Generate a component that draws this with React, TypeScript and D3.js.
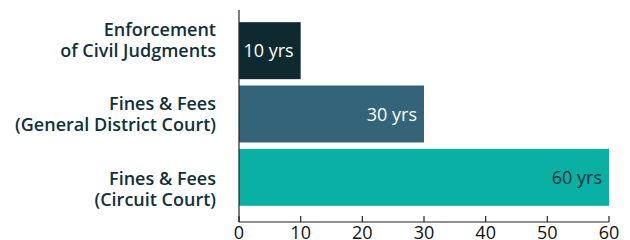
import React from "react";
import * as d3 from "d3";

const categories = [
  ["Enforcement", "of Civil Judgments"],
  ["Fines & Fees", "(General District Court)"],
  ["Fines & Fees", "(Circuit Court)"],
];
const values = [10, 30, 60];
const valueLabels = ["10 yrs", "30 yrs", "60 yrs"];
const barColors = ["#0e2a30", "#33647a", "#0bb0a5"];
const valueTextColors = ["#ffffff", "#ffffff", "#10303a"];
const xTicks = [0, 10, 20, 30, 40, 50, 60];

const W = 630;
const H = 240;
const FONT = "'Open Sans', sans-serif";
const TEXT = "#10303a";

export default function App() {
  const keys = categories.map((_, i) => String(i));
  const x = d3.scaleLinear().domain([0, 60]).range([239, 609]);
  const y = d3.scaleBand().domain(keys).range([19, 209]).paddingInner(0.1).paddingOuter(0.05);
  const labelY = d3.scalePoint().domain(keys).range([39.5, 188.5]);
  const axisY = 222;

  return (
    <svg width={W} height={H} style={{ position: "absolute", left: 0, top: 0, background: "#fff" }}>
      {values.map((v, i) => (
        <rect key={"b" + i} x={x(0)} y={y(keys[i])} width={x(v) - x(0)} height={y.bandwidth()} fill={barColors[i]} />
      ))}
      {values.map((v, i) => (
        <text
          key={"v" + i}
          x={x(v) - 7}
          y={(y(keys[i]) as number) + y.bandwidth() / 2 + 6.5}
          textAnchor="end"
          fontFamily={FONT}
          fontSize={18}
          fill={valueTextColors[i]}
        >
          {valueLabels[i]}
        </text>
      ))}
      {categories.map((lines, i) => (
        <text
          key={"c" + i}
          x={216}
          y={(labelY(keys[i]) as number) - 4}
          textAnchor="end"
          fontFamily={FONT}
          fontWeight={600}
          fontSize={18}
          fill={TEXT}
        >
          {lines.map((l, j) => (
            <tspan key={j} x={216} dy={j === 0 ? 0 : 21}>
              {l}
            </tspan>
          ))}
        </text>
      ))}
      <line x1={x(0)} x2={x(0)} y1={10} y2={axisY} stroke="#222" strokeWidth={1.2} />
      <line x1={x(0)} x2={x(60)} y1={axisY} y2={axisY} stroke="#222" strokeWidth={1.2} />
      {xTicks.map((t) => (
        <g key={"t" + t}>
          <line x1={x(t)} x2={x(t)} y1={axisY} y2={axisY - 6} stroke="#222" strokeWidth={1.2} />
          <text x={x(t)} y={239} textAnchor="middle" fontFamily={FONT} fontSize={18} fill="#111">
            {t}
          </text>
        </g>
      ))}
    </svg>
  );
}
